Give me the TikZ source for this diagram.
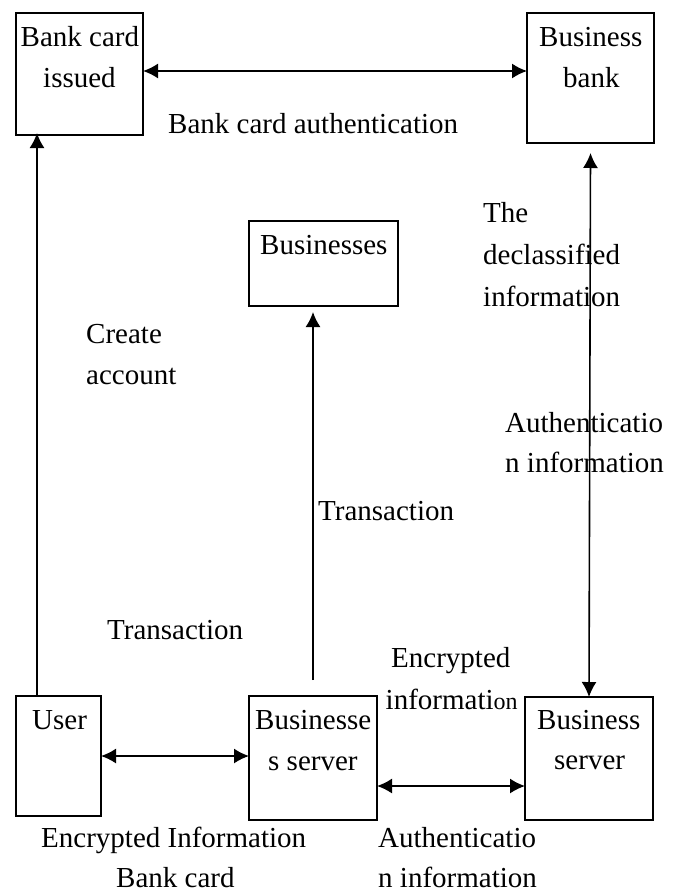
\documentclass[tikz,border=0pt]{standalone}
\usepackage{fontspec}
\setmainfont{Liberation Serif}
\usetikzlibrary{arrows.meta}
\tikzset{
 boxn/.style={draw,line width=1.6pt,anchor=north west,inner sep=0pt,outer sep=0pt},
 lbl/.style={font=\fontsize{29}{29}\selectfont,inner sep=0pt,anchor=base west},
 conn/.style={line width=1.6pt,-{Latex[length=15pt,width=15pt]}},
 both/.style={line width=1.6pt,{Latex[length=15pt,width=15pt]}-{Latex[length=15pt,width=15pt]}}
}
\begin{document}
\begin{tikzpicture}[x=1pt,y=1pt]
\useasboundingbox (0,0) rectangle (680,-891);
\fill[white] (0,0) rectangle (680,-891);
\node[boxn,minimum width=127pt,minimum height=122pt] (issued) at (16,-13) {};
\node[boxn,minimum width=127pt,minimum height=130pt] (bbank) at (527,-13) {};
\node[boxn,minimum width=149pt,minimum height=85pt] (biz) at (249,-221) {};
\node[boxn,minimum width=85pt,minimum height=120pt] (user) at (16,-696) {};
\node[boxn,minimum width=128pt,minimum height=124pt] (bizs) at (249,-696) {};
\node[boxn,minimum width=128pt,minimum height=123pt] (bserver) at (525,-697) {};
\draw[both] ([yshift=3pt]issued.east) -- ([yshift=7pt]bbank.west);
\draw[conn] ([xshift=21pt]user.north west) -- ([xshift=21pt,yshift=2pt]issued.south west);
\draw[conn] ([xshift=-10.5pt,yshift=16pt]biz.south |- bizs.north) -- ([xshift=-10.5pt,yshift=-6pt]biz.south);
\draw[both] ([yshift=-10pt]bbank.south) -- (bserver.north);
\draw[both] (user.east) -- ([yshift=2pt]bizs.west);
\draw[both] ([yshift=-28pt]bizs.east) -- ([yshift=-27.5pt]bserver.west);
\node[lbl] (t1) at (20.5,-46.5) {Bank card};
\node[lbl] (t2) at (43,-87.5) {issued};
\node[lbl] (t3) at (539,-46.5) {Business};
\node[lbl] (t4) at (563,-87.5) {bank};
\node[lbl] (t5) at (168,-133) {Bank card authentication};
\node[lbl] (t6) at (483,-222.5) {The};
\node[lbl] (t7) at (483,-264.5) {declassified};
\node[lbl] (t8) at (483,-306.5) {information};
\node[lbl] (t9) at (260,-254) {Businesses};
\node[lbl] (t10) at (86,-343) {Create};
\node[lbl] (t11) at (86,-384) {account};
\node[lbl] (t12) at (505,-432) {Authenticatio};
\node[lbl] (t13) at (505,-472.5) {n information};
\node[lbl] (t14) at (318,-520) {Transaction};
\node[lbl] (t15) at (107,-639) {Transaction};
\node[lbl] (t16) at (391,-667.5) {Encrypted};
\node[lbl] (t17) at (385.5,-709.5) {informati{\fontsize{24}{24}\selectfont on}};
\node[lbl] (t18) at (32,-729.5) {User};
\node[lbl] (t19) at (255,-729.5) {Businesse};
\node[lbl] (t20) at (268,-770) {s server};
\node[lbl] (t21) at (537,-729.5) {Business};
\node[lbl] (t22) at (554,-769.5) {server};
\node[lbl] (t23) at (41,-847.5) {Encrypted Information};
\node[lbl] (t24) at (116,-887) {Bank card};
\node[lbl] (t25) at (378,-847.5) {Authenticatio};
\node[lbl] (t26) at (378,-887) {n information};
\end{tikzpicture}
\end{document}
